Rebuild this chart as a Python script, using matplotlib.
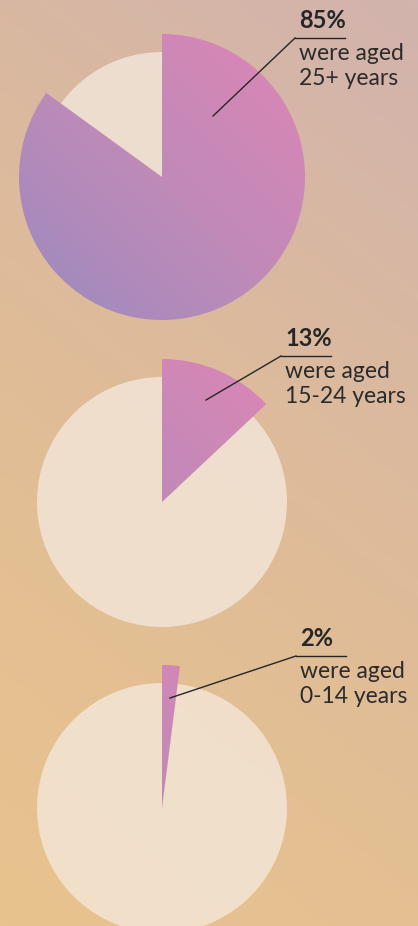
import matplotlib.pyplot as plt
import numpy as np
from matplotlib.colors import LinearSegmentedColormap

# shares (%) for each age group, one pie per group
shares = [85, 13, 2]
pct_labels = ["85%", "13%", "2%"]
sub_labels = ["were aged\n25+ years", "were aged\n15-24 years", "were aged\n0-14 years"]

W, H = 418, 926
fig = plt.figure(figsize=(W / 100, H / 100), dpi=100)
ax = fig.add_axes([0, 0, 1, 1])

# page background: peach bottom-left -> dusty pink top-right
bg_cmap = LinearSegmentedColormap.from_list("bg", ["#E9C38D", "#DFBC98", "#D2B3AD"])
yy, xx = np.mgrid[0:1:200j, 0:1:100j]
grad = 0.85 * yy + 0.3 * xx
ax.imshow(grad, extent=(0, W, 0, H), origin="lower", cmap=bg_cmap,
          aspect="auto", zorder=0)

wedge_cmap = LinearSegmentedColormap.from_list("wedge", ["#9B8BBF", "#C08AB8", "#DE86B6"])

centers = [(162, H - 177), (162, H - 502), (162, H - 808)]
r_bg, r_fg = 125, 143
label_pos = [(299, 20), (285, 338), (300, 638)]
leader_end = [(213, 116), (206, 400), (170, 698)]

for share, c, lab, sub, lp, le in zip(shares, centers, pct_labels, sub_labels,
                                      label_pos, leader_end):
    vals = [share, 100 - share]
    # pale base circle
    ax.pie(vals, radius=r_bg, center=c, startangle=90, counterclock=False,
           colors=["#F5EADF", "#F5EADF"], wedgeprops=dict(alpha=0.75, linewidth=0),
           frame=True)
    # highlighted slice, drawn larger, with a gradient fill
    wedges, _ = ax.pie(vals, radius=r_fg, center=c, startangle=90,
                       counterclock=False, colors=["none", "none"],
                       wedgeprops=dict(linewidth=0), frame=True)
    w = wedges[0]
    gy, gx = np.mgrid[0:1:100j, 0:1:100j]
    img = ax.imshow(0.5 * gx + 0.5 * gy,
                    extent=(c[0] - r_fg, c[0] + r_fg, c[1] - r_fg, c[1] + r_fg),
                    origin="lower", cmap=wedge_cmap, aspect="auto", zorder=2)
    img.set_clip_path(w)

    # labels
    x0, y0 = lp
    ax.text(x0, H - y0, lab, fontsize=17, fontweight="bold", family="Lato",
            color="#262626", ha="left", va="center", zorder=5)
    uy = H - (y0 + 18)
    ax.plot([x0 - 4, x0 + 46], [uy, uy], color="#262626", lw=1, zorder=5)
    ax.plot([x0 - 4, le[0]], [uy, H - le[1]], color="#262626", lw=1, zorder=5)
    ax.text(x0, uy - 5, sub, fontsize=16.5, family="Lato", color="#2b2b2b",
            ha="left", va="top", linespacing=1.22, zorder=5)

ax.set_xlim(0, W)
ax.set_ylim(0, H)
ax.set_aspect("auto")
ax.axis("off")
fig.savefig("out.png", dpi=100)
